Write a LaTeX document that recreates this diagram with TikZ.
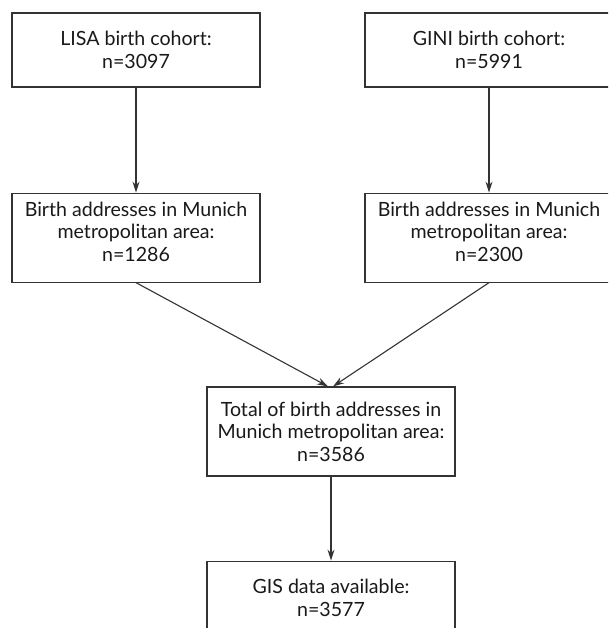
\documentclass[tikz,border=0pt]{standalone}
\usepackage{fontspec}
\setmainfont{Lato}
\usetikzlibrary{positioning,arrows.meta}
\tikzset {
cohort/.style={shape=rectangle,draw=black!80,minimum width=248pt,minimum height=74pt,align=center,inner sep=0pt},
addresses/.style={cohort,minimum height=89pt},
addresses top/.style={addresses,text depth=12pt}
}

\begin{document}
\begin{tikzpicture}
[x=1pt,y=1pt,>={Stealth[length=11pt,width=7pt]},line width=1.1pt,
 font=\fontsize{19.6}{22.5}\selectfont,text=black!90]
\useasboundingbox (0,0) rectangle (608,-628);
\clip (0,0) rectangle (608,-628);
\node[cohort] (lisa) at (136,-50) {LISA birth cohort:\\ n=3097};
\node[cohort] (gini) at (489,-50) {GINI birth cohort:\\ n=5991};
\node[addresses top] (addresses lisa) [below=105pt of lisa] {Birth addresses in Munich\\ metropolitan area:\\ n=1286};
\node[addresses top] (addresses gini) [below=105pt of gini] {Birth addresses in Munich\\ metropolitan area:\\ n=2300};
\node[addresses] (total) at (331,-431.5) {Total of birth addresses in\\ Munich metropolitan area:\\ n=3586};
\node[cohort] (gis) [below=84pt of total] {GIS data available:\\ n=3577};

\draw[->,black!80] (lisa) to (addresses lisa);
\draw[->,black!80] (gini) to (addresses gini);
\draw[->,black!80] (addresses lisa.south) to ([xshift=-3pt]total.north);
\draw[->,black!80] (addresses gini.south) to ([xshift=2pt]total.north);
\draw[->,black!80] (total) to (gis);
\end{tikzpicture}
\end{document}
